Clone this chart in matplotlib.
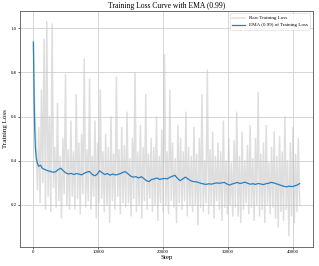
import numpy as np
import matplotlib.pyplot as plt

plt.rcParams['font.family'] = ['Liberation Serif', 'DejaVu Serif']

# Raw training loss
raw_loss = [
    0.94, 0.62, 0.48, 0.27, 0.55, 0.21, 0.72, 0.30, 0.95, 0.18,
    1.03, 0.24, 0.60, 0.17, 1.02, 0.28, 0.46, 0.19, 0.66, 0.22,
    0.42, 0.14, 0.50, 0.25, 0.79, 0.20, 0.45, 0.18, 0.58, 0.24,
    0.44, 0.18, 0.70, 0.23, 0.48, 0.16, 0.52, 0.25, 0.86, 0.19,
    0.45, 0.22, 0.77, 0.18, 0.42, 0.24, 0.58, 0.14, 0.48, 0.21,
    0.72, 0.23, 0.44, 0.17, 0.52, 0.20, 0.46, 0.12, 0.60, 0.22,
    0.43, 0.18, 0.78, 0.24, 0.45, 0.16, 0.55, 0.21, 0.47, 0.19,
    0.62, 0.21, 0.41, 0.15, 0.50, 0.23, 0.80, 0.17, 0.44, 0.20,
    0.56, 0.14, 0.46, 0.22, 0.70, 0.18, 0.43, 0.23, 0.50, 0.17,
    0.46, 0.20, 0.60, 0.13, 0.42, 0.21, 0.54, 0.17, 0.88, 0.20,
    0.44, 0.16, 0.72, 0.22, 0.48, 0.19, 0.41, 0.12, 0.56, 0.21,
    0.50, 0.18, 0.44, 0.22, 0.62, 0.15, 0.46, 0.20, 0.42, 0.17,
    0.55, 0.20, 0.43, 0.11, 0.50, 0.19, 0.70, 0.17, 0.40, 0.21,
    0.81, 0.16, 0.45, 0.20, 0.53, 0.14, 0.42, 0.22, 0.48, 0.18,
    0.44, 0.13, 0.58, 0.19, 0.40, 0.16, 0.50, 0.20, 0.39, 0.15,
    0.49, 0.19, 0.62, 0.15, 0.42, 0.12, 0.53, 0.18, 0.40, 0.21,
    0.47, 0.16, 0.56, 0.19, 0.41, 0.13, 0.50, 0.20, 0.71, 0.15,
    0.43, 0.18, 0.48, 0.12, 0.56, 0.20, 0.39, 0.16, 0.46, 0.19,
    0.53, 0.14, 0.42, 0.10, 0.51, 0.17, 0.44, 0.13, 0.60, 0.18,
    0.40, 0.06, 0.48, 0.15, 0.55, 0.12, 0.43, 0.17, 0.50, 0.20,
]
raw_steps = np.linspace(0, 41000, len(raw_loss))

# EMA (0.99) of the training loss
ema_steps = [
    0, 100, 200, 300, 450, 600, 800, 1100, 1400, 1800,
    2200, 2600, 3000, 3400, 3800, 4200, 4600, 5000, 5400, 5800,
    6200, 6600, 7000, 7400, 7800, 8200, 8600, 9000, 9400, 9800,
    10200, 10600, 11000, 11400, 11800, 12200, 12600, 13000, 13400, 13800,
    14200, 14600, 15000, 15400, 15800, 16200, 16600, 17000, 17400, 17800,
    18200, 18600, 19000, 19400, 19800, 20200, 20600, 21000, 21400, 21800,
    22200, 22600, 23000, 23400, 23800, 24200, 24600, 25000, 25400, 25800,
    26200, 26600, 27000, 27400, 27800, 28200, 28600, 29000, 29400, 29800,
    30200, 30600, 31000, 31400, 31800, 32200, 32600, 33000, 33400, 33800,
    34200, 34600, 35000, 35400, 35800, 36200, 36600, 37000, 37400, 37800,
    38200, 38600, 39000, 39400, 39800, 40200, 40600, 41000,
]
ema_loss = [
    0.937, 0.70, 0.55, 0.46, 0.41, 0.39, 0.375, 0.38, 0.365, 0.36,
    0.355, 0.352, 0.348, 0.35, 0.36, 0.366, 0.355, 0.345, 0.34, 0.343,
    0.338, 0.342, 0.34, 0.336, 0.343, 0.348, 0.352, 0.34, 0.332, 0.338,
    0.355, 0.345, 0.338, 0.342, 0.335, 0.34, 0.336, 0.338, 0.342, 0.348,
    0.35, 0.34, 0.33, 0.326, 0.328, 0.322, 0.328, 0.32, 0.31, 0.306,
    0.315, 0.318, 0.322, 0.316, 0.318, 0.32, 0.318, 0.325, 0.33, 0.334,
    0.32, 0.31, 0.318, 0.326, 0.318, 0.31, 0.306, 0.305, 0.302, 0.298,
    0.295, 0.293, 0.296, 0.294, 0.297, 0.30, 0.298, 0.30, 0.302, 0.295,
    0.29, 0.295, 0.298, 0.302, 0.297, 0.30, 0.303, 0.298, 0.294, 0.296,
    0.293, 0.297, 0.295, 0.292, 0.296, 0.298, 0.302, 0.30, 0.296, 0.292,
    0.288, 0.284, 0.282, 0.285, 0.283, 0.286, 0.29, 0.297,
]

fig = plt.figure(figsize=(3.19, 2.66), dpi=100)
ax = fig.add_axes([0.063, 0.073, 0.918, 0.886])

ax.plot(raw_steps, raw_loss, color='#c4c4c4', lw=1.1, alpha=0.55, label='Raw Training Loss')
ax.plot(ema_steps, ema_loss, color='#2a7fc1', lw=0.9, label='EMA (0.99) of Training Loss')

ax.set_title('Training Loss Curve with EMA (0.99)', fontsize=5.5, pad=2)
ax.set_xlabel('Step', fontsize=5, labelpad=1)
ax.set_ylabel('Training Loss', fontsize=5, labelpad=2)
ax.set_xticks([0, 10000, 20000, 30000, 40000])
ax.set_yticks([0.2, 0.4, 0.6, 0.8, 1.0])
ax.tick_params(labelsize=3.5, length=1.5, width=0.4, pad=1)
ax.grid(True, color='#cfcfcf', lw=0.6)
ax.set_axisbelow(True)
for s in ax.spines.values():
    s.set_linewidth(0.6)
    s.set_color('#555555')

leg = ax.legend(loc='upper right', fontsize=3.6, frameon=True, borderpad=0.5, handlelength=2.5)
leg.get_frame().set_linewidth(0.4)

plt.savefig('out.png', dpi=100)
